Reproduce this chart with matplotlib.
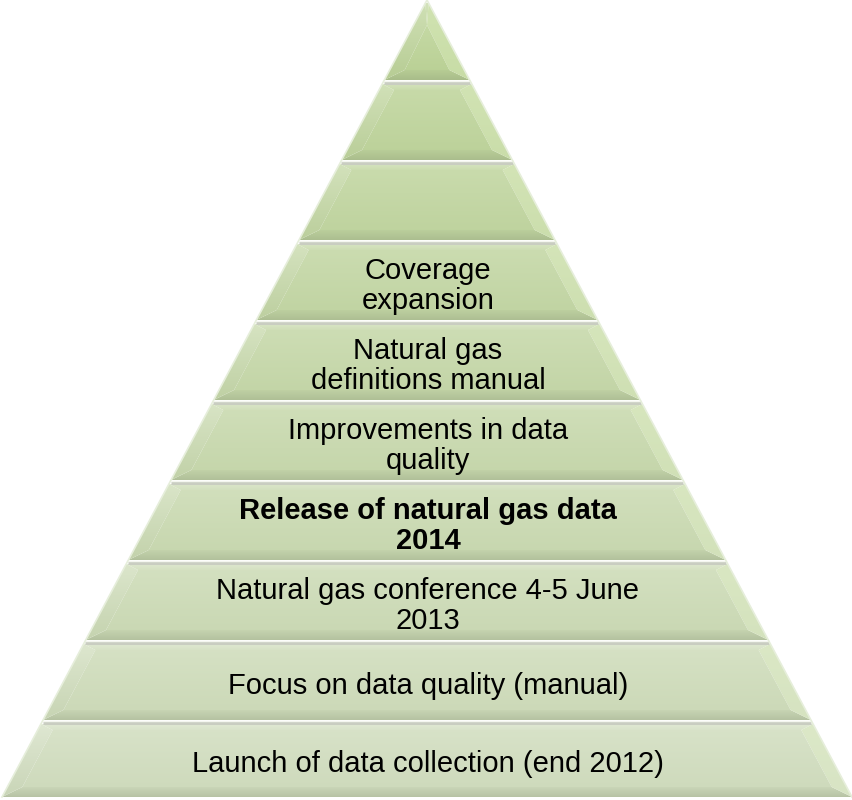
import numpy as np
import matplotlib
matplotlib.use("Agg")
import matplotlib.pyplot as plt
from matplotlib.patches import Polygon
from matplotlib.colors import to_rgb

# layers listed from the apex down to the base
labels = [
    "",
    "",
    "",
    "Coverage\nexpansion",
    "Natural gas\ndefinitions manual",
    "Improvements in data\nquality",
    "Release of natural gas data\n2014",
    "Natural gas conference 4-5 June\n2013",
    "Focus on data quality (manual)",
    "Launch of data collection (end 2012)",
]
bold_layer = [False, False, False, False, False, False, True, False, False, False]
top_color = "#bdd498"
bottom_color = "#d2dec0"

plt.rcParams['font.family'] = ['Liberation Sans', 'DejaVu Sans']

W, H = 852, 800
fig = plt.figure(figsize=(W / 100, H / 100), dpi=100)
ax = fig.add_axes([0, 0, 1, 1])
ax.set_xlim(0, W)
ax.set_ylim(H, 0)
ax.axis("off")

apex_x, apex_y = 427, 0.0
base_y = 797.0
half_base = 425.0
n = len(labels)
pitch = 80.0
gap = 4.0


def edges(y):
    hw = half_base * (y - apex_y) / (base_y - apex_y)
    return apex_x - hw, apex_x + hw


def mix(c, other, t):
    c = np.array(to_rgb(c))
    o = np.array(to_rgb(other))
    return tuple(c * (1 - t) + o * t)


def grad_fill(pts, c1, c2, y0, y1, z=2):
    # vertical gradient c1 (top) -> c2 (bottom), clipped to polygon
    poly = Polygon(pts, closed=True, facecolor="none", edgecolor="none")
    ax.add_patch(poly)
    g = np.linspace(0, 1, 64)[:, None, None]
    img = np.array(c1)[None, None, :] * (1 - g) + np.array(c2)[None, None, :] * g
    xs = [p[0] for p in pts]
    im = ax.imshow(img, extent=(min(xs) - 1, max(xs) + 1, y1 + 0.5, y0 - 0.5),
                   aspect="auto", zorder=z, interpolation="bilinear")
    im.set_clip_path(poly)


bt, bb, bs = 6.0, 10.0, 15.0

for i in range(n):
    yt = apex_y + 3 if i == 0 else 2 + pitch * i + gap / 2
    yb = base_y if i == n - 1 else 2 + pitch * (i + 1) - gap / 2
    base = mix(top_color, bottom_color, i / (n - 1))

    tl = (edges(yt)[0], yt)
    tr = (edges(yt)[1], yt)
    bl = (edges(yb)[0], yb)
    br = (edges(yb)[1], yb)
    iyt, iyb = yt + bt, yb - bb
    if i == 0:
        iyt = yt + 22
    itl_x = min(edges(iyt)[0] + bs, apex_x)
    itr_x = max(edges(iyt)[1] - bs, apex_x)
    ibl_x = edges(iyb)[0] + bs
    ibr_x = edges(iyb)[1] - bs
    itl, itr = (itl_x, iyt), (itr_x, iyt)
    ibl, ibr = (ibl_x, iyb), (ibr_x, iyb)

    # facets
    grad_fill([tl, tr, itr, itl], mix(base, "white", 0.35), mix(base, "white", 0.15), yt, iyt)
    grad_fill([bl, br, ibr, ibl], mix(base, "#8a9678", 0.10), mix(base, "#7d8a6c", 0.32), iyb, yb)
    grad_fill([tl, itl, ibl, bl], mix(base, "white", 0.28), mix(base, "#8a9678", 0.12), yt, yb)
    grad_fill([tr, br, ibr, itr], mix(base, "#e8f5d0", 0.45), mix(base, "#e8f5d0", 0.25), yt, yb)
    # face
    grad_fill([itl, itr, ibr, ibl], mix(base, "white", 0.12), mix(base, "#8a9678", 0.05), iyt, iyb)

    # separator line under the layer
    if i < n - 1:
        ys = yb + gap / 2 + 0.5
        xl, xr = edges(ys)
        ax.plot([xl + 1, xr - 1], [ys, ys], color="#c9cdc1", lw=2.2, zorder=3,
                solid_capstyle="butt")
        ax.plot([xl + 1, xr - 1], [ys - 1.8, ys - 1.8], color="#f4f6ef", lw=1.0, zorder=3,
                solid_capstyle="butt")

    if labels[i]:
        ax.text(apex_x + 1, (yt + yb) / 2 + 4, labels[i], ha="center", va="center",
                fontsize=21, color="black", linespacing=1.05,
                fontweight="bold" if bold_layer[i] else "normal", zorder=5)

# soft outline along the sloped sides
ax.plot([apex_x, apex_x - half_base], [apex_y, base_y], color="#e6eedb", lw=1.2, zorder=4)
ax.plot([apex_x, apex_x + half_base], [apex_y, base_y], color="#e6eedb", lw=1.2, zorder=4)

fig.savefig("out.png", dpi=100)
